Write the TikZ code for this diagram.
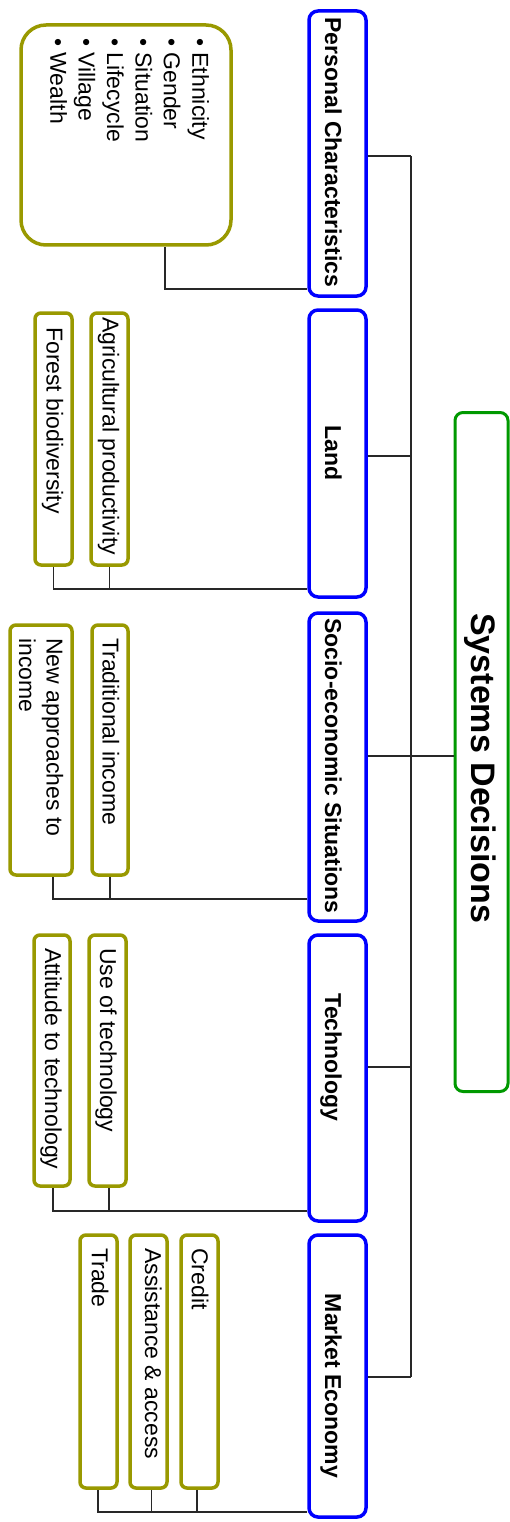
\documentclass[tikz,border=0pt]{standalone}
\usepackage{fontspec}
\setmainfont{Liberation Sans}
\definecolor{catblue}{RGB}{0,0,255}
\definecolor{leafolive}{RGB}{153,153,0}
\definecolor{rootgreen}{RGB}{0,153,0}
\definecolor{linkgray}{RGB}{40,40,40}
\begin{document}
\begin{tikzpicture}[x=1pt,y=1pt,
  catbox/.style={draw=catblue,line width=3.5pt,rounded corners=9pt,inner sep=0pt,fill=white},
  leafbox/.style={draw=leafolive,line width=3.5pt,rounded corners=6pt,inner sep=0pt,fill=white},
  rootbox/.style={draw=rootgreen,line width=3pt,rounded corners=8pt,inner sep=0pt,fill=white},
  link/.style={draw=linkgray,line width=1.3pt},
  vtext/.style={rotate=-90,inner sep=0pt,font=\fontsize{23}{27.5}\selectfont},
  cattext/.style={vtext,font=\fontsize{23}{27.5}\selectfont\bfseries,anchor=base},
  leaftext/.style={vtext,anchor=base west}]

% page frame
\fill[white] (0,0) rectangle (510,-1522);
\useasboundingbox (0,0) rectangle (510,-1522);

% root
\node[rootbox,minimum width=53pt,minimum height=679pt] (root) at (481.5,-752) {};
\node[vtext,font=\fontsize{34}{40}\selectfont\bfseries,anchor=base west] (rootlbl) at (471,-613) {Systems Decisions};

% categories
\node[catbox,minimum width=57pt,minimum height=285pt] (pers) at (337.5,-153.5) {};
\node[catbox,minimum width=57pt,minimum height=287pt] (land) at (337.5,-453.5) {};
\node[catbox,minimum width=57pt,minimum height=308pt] (socio) at (337.5,-767) {};
\node[catbox,minimum width=57pt,minimum height=286pt] (tech) at (337.5,-1078) {};
\node[catbox,minimum width=57pt,minimum height=282pt] (mkt) at (337.5,-1376) {};
\node[cattext] (perslbl) at (325,-152.5) {Personal Characteristics};
\node[cattext] (landlbl) at (325,-453) {Land};
\node[cattext] (sociolbl) at (325,-766) {Socio-economic Situations};
\node[cattext] (techlbl) at (325,-1057.5) {Technology};
\node[cattext] (mktlbl) at (325,-1386) {Market Economy};

% personal characteristics list
\node[leafbox,rounded corners=25pt,minimum width=210pt,minimum height=220pt] (traits) at (126,-135) {};
\node[vtext,font=\fontsize{23}{28.4}\selectfont,anchor=north west,align=left] (traitslbl) at (209.2,-38)
  {\textbullet\ Ethnicity\\\textbullet\ Gender\\\textbullet\ Situation\\\textbullet\ Lifecycle\\\textbullet\ Village\\\textbullet\ Wealth};

% land
\node[leafbox,minimum width=37pt,minimum height=252pt] (agri) at (109.5,-439) {};
\node[leafbox,minimum width=37pt,minimum height=252pt] (forest) at (53.5,-439) {};
\node[leaftext] (agrilbl) at (102.5,-317) {Agricultural productivity};
\node[leaftext] (forestlbl) at (46.5,-327) {Forest biodiversity};

% socio-economic
\node[leafbox,minimum width=36pt,minimum height=250pt] (trad) at (110,-750) {};
\node[leafbox,minimum width=62pt,minimum height=250pt] (newinc) at (41,-750) {};
\node[leaftext] (tradlbl) at (102.5,-638) {Traditional income};
\node[vtext,anchor=north west,align=left] (newinclbl) at (63.5,-638) {New approaches to\\income};

% technology
\node[leafbox,minimum width=37pt,minimum height=251pt] (usetech) at (107.5,-1060.5) {};
\node[leafbox,minimum width=36pt,minimum height=251pt] (atttech) at (52,-1060.5) {};
\node[leaftext] (usetechlbl) at (100.2,-948) {Use of technology};
\node[leaftext] (atttechlbl) at (45.2,-948) {Attitude to technology};

% market economy
\node[leafbox,minimum width=37pt,minimum height=253pt] (credit) at (199.5,-1361.5) {};
\node[leafbox,minimum width=37pt,minimum height=253pt] (assist) at (148.5,-1361.5) {};
\node[leafbox,minimum width=37pt,minimum height=253pt] (trade) at (98.5,-1361.5) {};
\node[leaftext] (creditlbl) at (191.8,-1248) {Credit};
\node[leaftext] (assistlbl) at (145.2,-1248) {Assistance \& access};
\node[leaftext] (tradelbl) at (91.8,-1248) {Trade};

% spine joining the categories to the root
\coordinate (s1) at (411,-156);
\coordinate (s2) at (411,-456);
\coordinate (s3) at (411,-756);
\coordinate (s4) at (411,-1067);
\coordinate (s5) at (411,-1377);
\draw[link] (s1) -- (s5);
\draw[link] (pers.east |- s1) -- (s1);
\draw[link] (land.east |- s2) -- (s2);
\draw[link] (socio.east |- s3) -- (root.west |- s3);
\draw[link] (tech.east |- s4) -- (s4);
\draw[link] (mkt.east |- s5) -- (s5);

% category-to-item links
\coordinate (pj) at (165,-289);
\draw[link] (pers.west |- pj) -- (pj) -- (pj |- traits.south);

\coordinate (lj) at (53.5,-589);
\draw[link] (land.west |- lj) -| (forest.south);
\draw[link] (agri.south) -- (agri.south |- lj);

\coordinate (sj) at (53,-899);
\draw[link] (socio.west |- sj) -- (sj) -- (sj |- newinc.south);
\draw[link] (trad.south) -- (trad.south |- sj);

\coordinate (tj) at (53,-1211);
\draw[link] (tech.west |- tj) -- (tj) -- (tj |- atttech.south);
\draw[link] ([xshift=1.5pt]usetech.south) -- ([xshift=1.5pt]usetech.south |- tj);

\coordinate (mj) at (98,-1512);
\draw[link] (mkt.west |- mj) -- (mj) -- (mj |- trade.south);
\draw[link] ([xshift=3pt]assist.south) -- ([xshift=3pt]assist.south |- mj);
\draw[link] ([xshift=-2.5pt]credit.south) -- ([xshift=-2.5pt]credit.south |- mj);
\end{tikzpicture}
\end{document}
